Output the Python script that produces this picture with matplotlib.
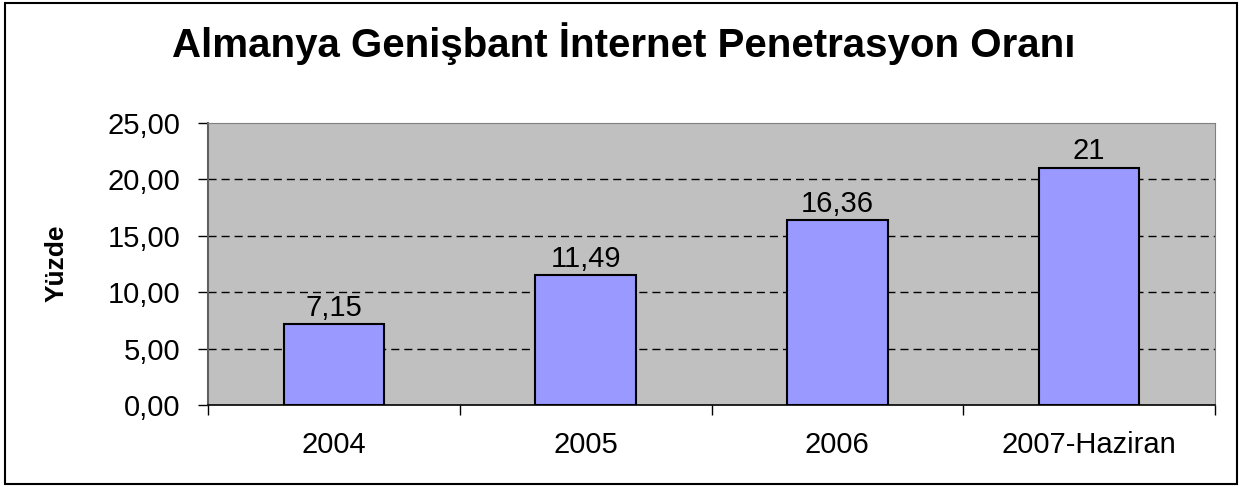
import matplotlib
matplotlib.use("Agg")
import matplotlib.pyplot as plt
from matplotlib.patches import Rectangle

categories = ["2004", "2005", "2006", "2007-Haziran"]
values = [7.15, 11.49, 16.36, 21]
value_labels = ["7,15", "11,49", "16,36", "21"]
yticks = [0, 5, 10, 15, 20, 25]
ytick_labels = ["0,00", "5,00", "10,00", "15,00", "20,00", "25,00"]

plt.rcParams['font.family'] = ['Liberation Sans', 'DejaVu Sans']
plt.rcParams['lines.scale_dashes'] = False

W, H = 1239, 487
fig = plt.figure(figsize=(W / 100, H / 100), dpi=100)
fig.patch.set_facecolor("white")

# figure border
fig.patches.append(Rectangle((5 / W, 1 - 484 / H), (1237 - 5) / W, (484 - 3) / H,
                             transform=fig.transFigure, fill=False,
                             edgecolor="black", linewidth=1.5))

l, r, t, b = 208, 1215, 123, 405
ax = fig.add_axes([l / W, 1 - b / H, (r - l) / W, (b - t) / H])
ax.set_facecolor("#C0C0C0")

FS = 21
x = list(range(len(categories)))
ax.bar(x, values, width=0.4, color="#9999FF", edgecolor="black", linewidth=1.5, zorder=3)
for xi, v, lab in zip(x, values, value_labels):
    ax.annotate(lab, (xi, v), xytext=(0, 2), textcoords="offset points",
                ha="center", va="bottom", fontsize=FS, color="black")

ax.set_xlim(-0.5, len(categories) - 0.5)
ax.set_ylim(0, 25)
ax.set_yticks(yticks)
ax.set_yticklabels(ytick_labels, fontsize=FS)
ax.set_xticks([i - 0.5 for i in range(len(categories) + 1)])
ax.set_xticklabels([])
ax.set_xticks(x, minor=True)
ax.set_xticklabels(categories, minor=True, fontsize=FS)
ax.tick_params(axis="x", which="minor", length=0, pad=19)
ax.tick_params(axis="x", which="major", length=7, width=1, color="black", direction="out")
ax.tick_params(axis="y", length=7, width=1, color="black", direction="out", pad=13)

for yv in yticks[1:-1]:
    ax.axhline(yv, color="black", linewidth=1, linestyle=(0, (5.8, 3.6)), zorder=1)

ax.spines["left"].set_color("#606060")
ax.spines["left"].set_linewidth(1.5)
ax.spines["top"].set_color("#808080")
ax.spines["right"].set_color("#808080")
ax.spines["bottom"].set_color("black")
ax.spines["bottom"].set_linewidth(1.2)

fig.text(57 / W, 1 - 263 / H, "Yüzde", rotation=90, ha="center", va="center",
         fontsize=19, fontweight="bold")

fig.text((163 + 1085) / 2 / W, 1 - 44 / H, "Almanya Genişbant İnternet Penetrasyon Oranı",
         ha="center", va="center", fontsize=29, fontweight="bold")

fig.savefig("out.png", dpi=100)
